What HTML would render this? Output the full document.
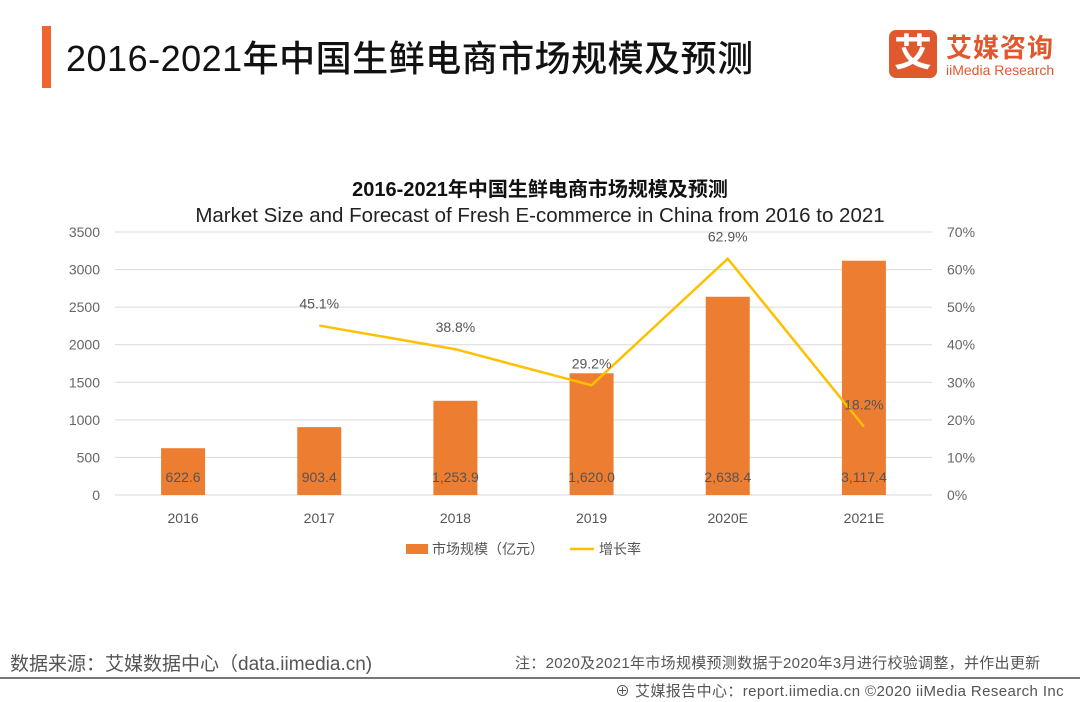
<!DOCTYPE html>
<html><head><meta charset="utf-8"><style>
body{margin:0;width:1080px;height:702px;background:#fff;overflow:hidden;font-family:"Liberation Sans","Noto Sans CJK SC",sans-serif;position:relative}
.abs{position:absolute;white-space:nowrap}
</style></head><body>
<div class="abs" style="left:42px;top:26px;width:9px;height:62px;background:#f0642d"></div>
<div class="abs" style="left:66px;top:30px;font-size:36px;color:#111;font-weight:500;letter-spacing:0.5px">2016-2021年中国生鲜电商市场规模及预测</div>
<div class="abs" style="left:889px;top:30px;width:48px;height:48px;background:#e0582e;border-radius:7px;color:#fff;font-size:38px;font-weight:bold;text-align:center;line-height:48px">艾</div>
<div class="abs" style="left:946px;top:28px;font-size:26px;color:#e0582e;font-weight:bold;letter-spacing:1px">艾媒咨询</div>
<div class="abs" style="left:946px;top:62px;font-size:14px;color:#e0582e">iiMedia Research</div>
<svg class="abs" style="left:0;top:0" width="1080" height="702">
<g id="g"></g>
</svg>
<div class="abs" style="left:10px;top:649px;font-size:19px;color:#555">数据来源：艾媒数据中心（data.iimedia.cn)</div>
<div class="abs" style="left:515px;top:652px;font-size:15px;color:#555;letter-spacing:0.3px">注：2020及2021年市场规模预测数据于2020年3月进行校验调整，并作出更新</div>
<div class="abs" style="left:0;top:677px;width:1080px;height:2px;background:#777"></div>
<div class="abs" style="left:615px;top:680px;font-size:15px;color:#555;letter-spacing:0.4px">⊕ 艾媒报告中心：report.iimedia.cn ©2020 iiMedia Research Inc</div>
<script>
const categories=["2016","2017","2018","2019","2020E","2021E"];
const marketSize=[622.6,903.4,1253.9,1620.0,2638.4,3117.4];
const sizeLabels=["622.6","903.4","1,253.9","1,620.0","2,638.4","3,117.4"];
const growthRate=[null,45.1,38.8,29.2,62.9,18.2];
const leftTicks=[0,500,1000,1500,2000,2500,3000,3500];
const rightTicks=[0,10,20,30,40,50,60,70];
const NS="http://www.w3.org/2000/svg";
const g=document.getElementById('g');
const x0=115,x1=932,yb=495,yt=232;
const yL=v=>yb-v/3500*(yb-yt);
const yR=v=>yb-v/70*(yb-yt);
const step=(x1-x0)/categories.length;
const xc=i=>x0+step*(i+0.5);
function mk(t,a,txt){const e=document.createElementNS(NS,t);for(const k in a)e.setAttribute(k,a[k]);if(txt!=null)e.textContent=txt;g.appendChild(e);return e;}
let e;
e=mk('text',{x:540,y:196,'text-anchor':'middle','font-size':20,'font-weight':'bold',fill:'#111'},'2016-2021年中国生鲜电商市场规模及预测');


e=mk('text',{x:540,y:222,'text-anchor':'middle','font-size':20.5,fill:'#222'},'Market Size and Forecast of Fresh E-commerce  in China from 2016 to 2021');


leftTicks.forEach(v=>{
 e=mk('line',{x1:x0,x2:x1,y1:yL(v),y2:yL(v),stroke:'#d9d9d9','stroke-width':1});
 
 
 e=mk('text',{x:100,y:yL(v)+5,'text-anchor':'end','font-size':14,fill:'#666'},v);
 
 
});
rightTicks.forEach(v=>{
 e=mk('text',{x:947,y:yR(v)+5,'font-size':14,fill:'#666'},v+'%');
 
 
});
categories.forEach((c,i)=>{
 e=mk('rect',{x:xc(i)-22,y:yL(marketSize[i]),width:44,height:yb-yL(marketSize[i]),fill:'#ed7d31'});
 
 
 e=mk('text',{x:xc(i),y:482,'text-anchor':'middle','font-size':14,fill:'#555'},sizeLabels[i]);
 
 
 e=mk('text',{x:xc(i),y:523,'text-anchor':'middle','font-size':14,fill:'#555'},c);
 
 
});
const pts=[];growthRate.forEach((v,i)=>{if(v!=null)pts.push([xc(i),yR(v),v]);});
e=mk('polyline',{points:pts.map(p=>p[0]+','+p[1]).join(' '),fill:'none',stroke:'#ffc000','stroke-width':2.5});


pts.forEach(p=>{
 e=mk('text',{x:p[0],y:p[1]-17,'text-anchor':'middle','font-size':14,fill:'#555'},p[2].toFixed(1)+'%');
 
 
});
e=mk('rect',{x:406,y:544,width:22,height:10,fill:'#ed7d31'});


e=mk('text',{x:432,y:554,'font-size':14,fill:'#555'},'市场规模（亿元）');


e=mk('line',{x1:570,x2:594,y1:549,y2:549,stroke:'#ffc000','stroke-width':2.5});


e=mk('text',{x:599,y:554,'font-size':14,fill:'#555'},'增长率');


</script>
</body></html>
